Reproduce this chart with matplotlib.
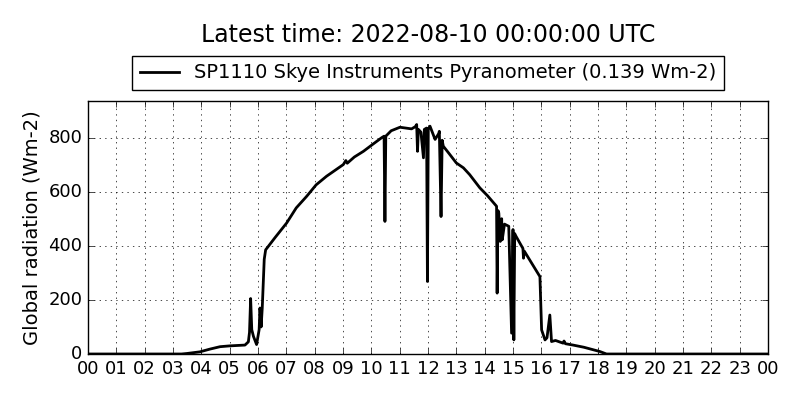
import numpy as np
import matplotlib
matplotlib.use('Agg')
import matplotlib.pyplot as plt

# hours since 00 UTC and global radiation (Wm-2)
hours = [0.0, 3.3, 3.5, 3.95, 4.3, 4.66, 5.0, 5.54, 5.66, 5.70, 5.74, 5.78, 5.84, 5.95,
         6.04, 6.07, 6.11, 6.15, 6.22, 6.27, 6.6, 7.01, 7.35, 7.72, 8.05, 8.42, 9.01, 9.1,
         9.15, 9.4, 9.72, 10.05, 10.36, 10.45, 10.48, 10.51, 10.7, 11.01, 11.42, 11.55,
         11.6, 11.63, 11.66, 11.75, 11.84, 11.87, 11.95, 11.98, 12.01, 12.07, 12.25,
         12.38, 12.40, 12.46, 12.5, 12.54, 12.75, 13.0, 13.25, 13.47, 13.83, 14.1, 14.42,
         14.44, 14.47, 14.5, 14.55, 14.6, 14.62, 14.7, 14.85, 14.95, 15.0, 15.03, 15.06,
         15.08, 15.35, 15.37, 15.4, 15.95, 16.01, 16.13, 16.2, 16.3, 16.36, 16.5, 16.77,
         16.8, 16.85, 17.12, 17.5, 18.07, 18.3, 24.0]
radiation = [0, 0, 2, 8, 18, 27, 30, 33, 45, 80, 205, 90, 65, 35,
             90, 170, 100, 170, 350, 385, 430, 484, 540, 583, 625, 657, 700, 715,
             705, 728, 749, 775, 799, 805, 490, 805, 825, 838, 832, 840,
             848, 749, 830, 820, 725, 830, 835, 268, 830, 842, 793,
             815, 823, 508, 790, 768, 740, 706, 688, 663, 614, 585, 546,
             225, 530, 521, 416, 500, 422, 480, 472, 77, 460, 52, 445,
             440, 390, 354, 380, 286, 89, 52, 60, 144, 46, 50, 40,
             48, 38, 33, 25, 9, 0, 0]
tick_labels = ['%02d' % (h % 24) for h in range(25)]

plt.style.use('classic')
fig = plt.figure(figsize=(8, 4), dpi=100, facecolor='white')
ax = fig.add_axes([0.11, 0.115, 0.85, 0.6325])
ax.plot(hours, radiation, color='k', lw=2,
        label='SP1110 Skye Instruments Pyranometer (0.139 Wm-2)')
ax.set_xlim(0, 24)
ax.set_ylim(0, 935)
ax.set_xticks(range(25))
ax.set_xticklabels(tick_labels)
ax.set_yticks([0, 200, 400, 600, 800])
ax.tick_params(labelsize=13)
ax.grid(True, color='k', linestyle=':')
ax.set_ylabel('Global radiation (Wm-2)', fontsize=14)
ax.legend(loc='lower center', bbox_to_anchor=(0.5, 1.043), fontsize=14,
          frameon=True, numpoints=1, handlelength=2, borderaxespad=0)
fig.text(0.535, 0.9125, 'Latest time: 2022-08-10 00:00:00 UTC', fontsize=17,
         ha='center', va='center')
fig.savefig('out.png', dpi=100, facecolor='white')
